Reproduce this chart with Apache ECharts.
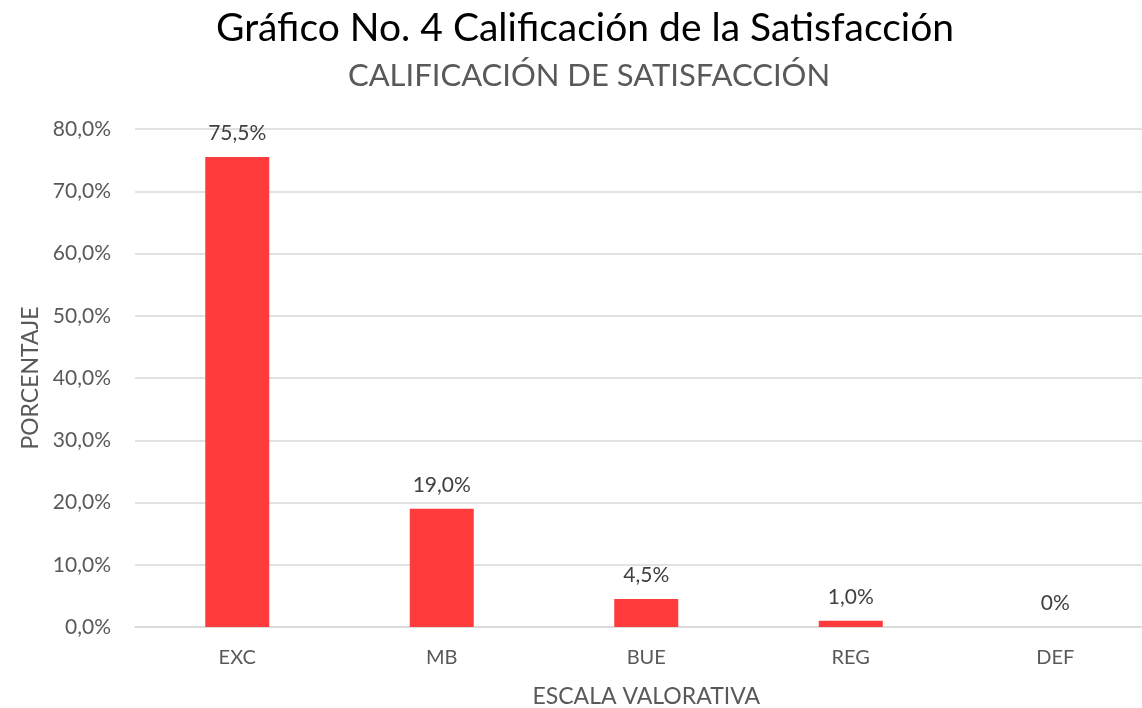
<!DOCTYPE html>
<html><head><meta charset="utf-8">
<script src="https://cdn.jsdelivr.net/npm/echarts@6/dist/echarts.min.js"></script>
<style>html,body{margin:0;padding:0;background:#fff;overflow:hidden}#c{width:1142px;height:708px}</style>
</head><body><div id="c"></div>
<script>
const categories = ["EXC", "MB", "BUE", "REG", "DEF"];
const values = [75.5, 19.0, 4.5, 1.0, 0];
const yTicks = [0, 10, 20, 30, 40, 50, 60, 70, 80];
const titleText = "Gráfico No. 4 Calificación de la Satisfacción";
const subtitleText = "CALIFICACIÓN DE SATISFACCIÓN";
const FONT = "Lato";
const chart = echarts.init(document.getElementById('c'), null, {renderer: 'canvas'});
function pct(v){ return v === 0 ? '0%' : v.toFixed(1).replace('.', ',') + '%'; }
chart.setOption({
  animation: false,
  backgroundColor: '#fff',
  title: [
    {text: titleText, left: 580, top: 4, textAlign: 'center',
     textStyle: {fontFamily: FONT, fontSize: 39, fontWeight: 'normal', color: '#000'}},
    {text: subtitleText, left: 584, top: 55, textAlign: 'center',
     textStyle: {fontFamily: FONT, fontSize: 31, fontWeight: 'normal', color: '#595959'}}
  ],
  grid: {left: 135, top: 129, right: -15.5, bottom: 81, containLabel: false, outerBoundsMode: 'none'},
  xAxis: {
    type: 'category', data: categories,
    axisLine: {lineStyle: {color: '#d9d9d9', width: 1.5}},
    axisTick: {show: false},
    axisLabel: {fontFamily: FONT, fontSize: 20, color: '#595959', margin: 21},
    name: 'ESCALA VALORATIVA', nameLocation: 'middle', nameGap: 58,
    nameTextStyle: {fontFamily: FONT, fontSize: 23, color: '#595959'}
  },
  yAxis: {
    type: 'value', min: yTicks[0], max: yTicks[yTicks.length-1], interval: 10,
    axisLine: {show: false}, axisTick: {show: false},
    splitLine: {lineStyle: {color: '#d9d9d9', width: 1.5}},
    axisLabel: {fontFamily: FONT, fontSize: 21, color: '#595959', margin: 24,
      formatter: v => v.toFixed(1).replace('.', ',') + '%'},
    name: 'PORCENTAJE', nameLocation: 'middle', nameGap: 93, nameRotate: 90,
    nameTextStyle: {fontFamily: FONT, fontSize: 23, color: '#595959'}
  },
  series: [{
    type: 'bar', data: values, barWidth: 64,
    itemStyle: {color: '#FF3B3B'},
    label: {show: true, position: 'top', distance: 13, fontFamily: FONT, fontSize: 21, color: '#404040',
      formatter: p => pct(p.value)}
  }]
});
</script></body></html>
